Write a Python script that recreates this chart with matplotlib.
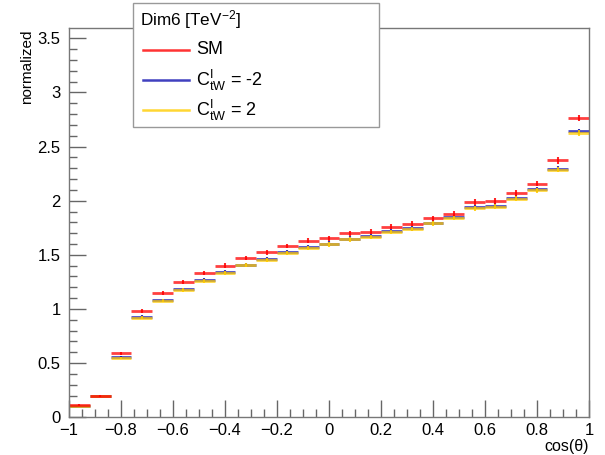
import numpy as np
import matplotlib
matplotlib.use("Agg")
import matplotlib.pyplot as plt
from matplotlib.ticker import MultipleLocator, FuncFormatter
from matplotlib.lines import Line2D
from matplotlib.patches import Rectangle

plt.rcParams['font.family'] = ['Liberation Sans', 'DejaVu Sans']
plt.rcParams['mathtext.fontset'] = 'custom'
plt.rcParams['mathtext.rm'] = 'Liberation Sans'
plt.rcParams['mathtext.it'] = 'Liberation Sans'

# 25 bins in cos(theta)
bin_edges = np.linspace(-1, 1, 26)

sm = [0.113, 0.199, 0.590, 0.982, 1.146, 1.247, 1.333, 1.401, 1.471, 1.523,
      1.582, 1.628, 1.653, 1.701, 1.714, 1.760, 1.788, 1.837, 1.880, 1.986,
      1.996, 2.070, 2.157, 2.371, 2.765]
ctw_m2 = [0.108, 0.197, 0.559, 0.927, 1.081, 1.182, 1.265, 1.339, 1.410, 1.462,
          1.526, 1.572, 1.604, 1.650, 1.671, 1.720, 1.745, 1.797, 1.849, 1.941,
          1.954, 2.028, 2.107, 2.295, 2.639]
ctw_p2 = [0.105, 0.195, 0.547, 0.920, 1.075, 1.176, 1.258, 1.333, 1.404, 1.456,
          1.520, 1.566, 1.596, 1.643, 1.662, 1.712, 1.737, 1.790, 1.840, 1.930,
          1.945, 2.020, 2.098, 2.285, 2.625]
# statistical errors (small)
sm_err = [0.006, 0.008, 0.012, 0.016, 0.018, 0.019, 0.020, 0.021, 0.021, 0.022,
          0.022, 0.023, 0.023, 0.023, 0.023, 0.024, 0.024, 0.024, 0.025, 0.025,
          0.025, 0.026, 0.026, 0.028, 0.030]
bsm_err = [0.005, 0.007, 0.011, 0.014, 0.015, 0.016, 0.017, 0.018, 0.018, 0.019,
           0.019, 0.020, 0.020, 0.020, 0.020, 0.021, 0.021, 0.021, 0.022, 0.022,
           0.022, 0.022, 0.023, 0.024, 0.026]

labels = ['SM', r'$\mathregular{C_{tW}^{I}}$ = -2', r'$\mathregular{C_{tW}^{I}}$ = 2']
colors = ['#ff0000', '#1010b0', '#ffcc00']

fig = plt.figure(figsize=(6.05, 4.55), dpi=100)
ax = fig.add_axes([0.114, 0.0829, 0.8595, 0.8556])

lo = bin_edges[:-1]
hi = bin_edges[1:]
centers = 0.5 * (lo + hi)

series = [(ctw_m2, bsm_err, colors[1]), (ctw_p2, bsm_err, colors[2]), (sm, sm_err, colors[0])]
for vals, errs, c in series:
    ax.hlines(vals, lo, hi, colors=c, lw=2.0, alpha=0.75)
    ax.errorbar(centers, vals, yerr=errs, fmt='none', ecolor=c, elinewidth=1.5, alpha=0.85)

ax.set_xlim(-1, 1)
ax.set_ylim(0, 1.3 * max(sm))

ax.xaxis.set_major_locator(MultipleLocator(0.2))
ax.xaxis.set_minor_locator(MultipleLocator(0.05))
ax.yaxis.set_major_locator(MultipleLocator(0.5))
ax.yaxis.set_minor_locator(MultipleLocator(0.1))
fmt = FuncFormatter(lambda v, p: ('{:g}'.format(round(v, 6))).replace('-', '\u2212'))
ax.xaxis.set_major_formatter(fmt)
ax.yaxis.set_major_formatter(fmt)

ax.tick_params(which='both', direction='in', top=False, right=False, color='#666666',
               labelsize=12)
ax.tick_params(which='major', length=12, width=1)
ax.tick_params(which='minor', length=6, width=1)
ax.tick_params(axis='x', pad=4)
ax.tick_params(axis='y', pad=6)
for s in ax.spines.values():
    s.set_color('#777777')
    s.set_linewidth(1)

W, H = 605.0, 455.0
ax.set_xlabel('cos(\u03b8)', fontsize=11.5, loc='right', labelpad=1)
fig.text(27 / W, 1 - 29 / H, 'normalized', fontsize=11, rotation=90,
         ha='center', va='top')

# legend box drawn in figure coordinates
fig.patches.append(Rectangle((133 / W, 1 - 127 / H), (379 - 133) / W, (127 - 3) / H,
                             transform=fig.transFigure, facecolor='white',
                             edgecolor='#999999', lw=1, zorder=10))
fig.text(140 / W, 1 - 20 / H, r'Dim6 [TeV$^{\mathregular{-2}}$]', fontsize=12.3,
         va='center', ha='left', zorder=11)
for i, (lab, c) in enumerate(zip(labels, colors)):
    yy = 1 - (50 + 30 * i) / H
    fig.lines.append(Line2D([143 / W, 189 / W], [yy, yy], transform=fig.transFigure,
                            color=c, lw=1.8, alpha=0.8, zorder=11))
    fig.text(196 / W, yy, lab, fontsize=13, va='center', ha='left', zorder=11)

fig.savefig('out.png', dpi=100)
